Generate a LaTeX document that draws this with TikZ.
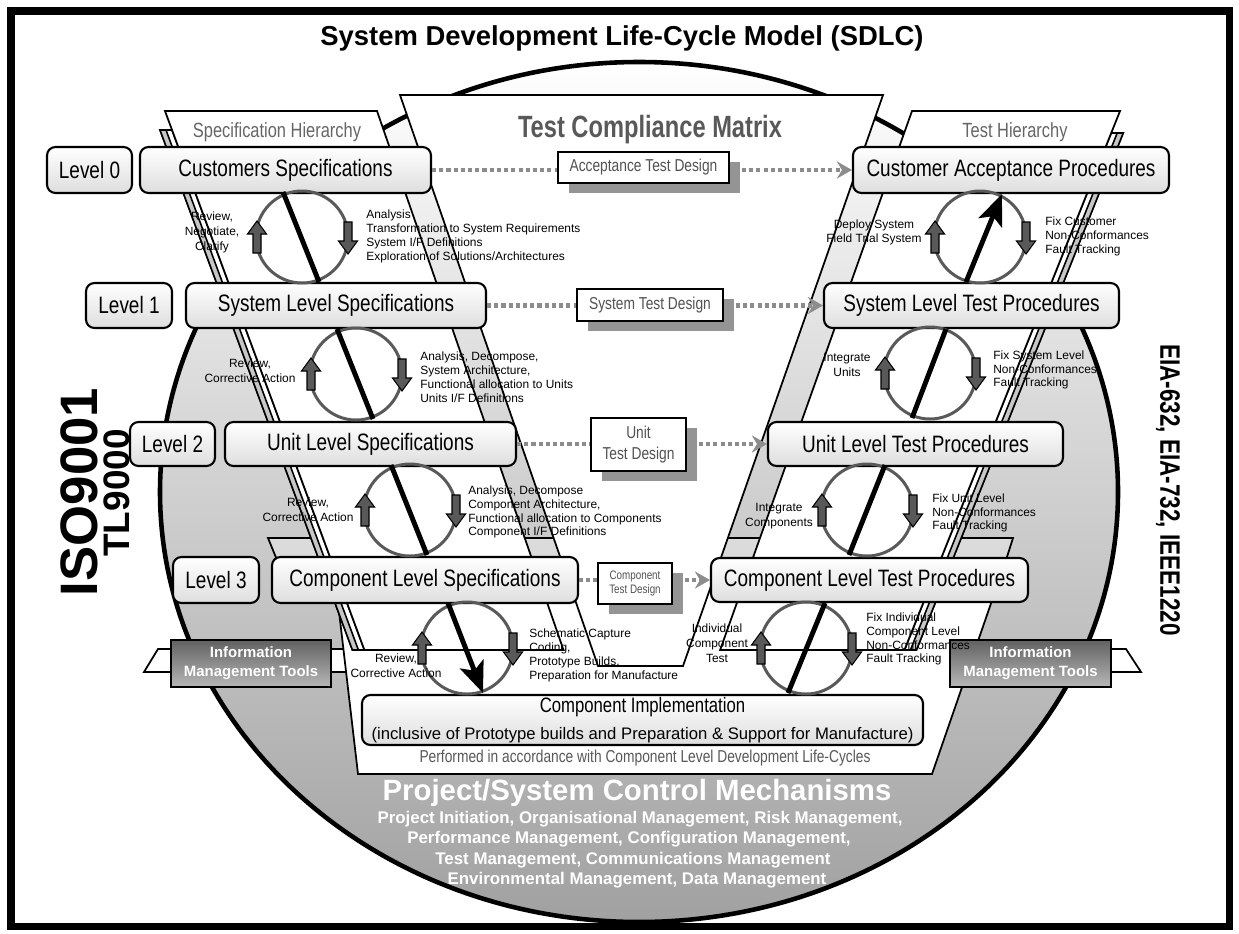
\documentclass[tikz,border=0pt]{standalone}
\usepackage{fontspec}
\setmainfont{Liberation Sans}
\newfontfamily\narrow[FakeStretch=0.8]{Liberation Sans}
\newfontfamily\narrowbold[FakeStretch=0.77]{Liberation Sans Bold}
\usetikzlibrary{arrows.meta,calc,shadows}
\newcommand\upblk[1]{\draw[blk, shift={(#1)}] (-4,16) -- (-4,-3) -- (-9.5,-3) -- (0,-16) -- (9.5,-3) -- (4,-3) -- (4,16) -- cycle;}
\newcommand\dnblk[1]{\draw[blk, shift={(#1)}] (-4,-16) -- (-4,3) -- (-9.5,3) -- (0,16) -- (9.5,3) -- (4,3) -- (4,-16) -- cycle;}
\begin{document}
\begin{tikzpicture}[x=0.02cm,y=-0.02cm,
  box/.style={draw=black,line width=1.2pt,rounded corners=0.17cm,top color=white,bottom color=black!13,inner sep=0pt,font=\narrow\fontsize{13.5}{15}\selectfont},
  wh/.style 2 args={minimum width=#1*0.02cm,minimum height=#2*0.02cm},
  tdbox/.style={draw=black,line width=1.1pt,fill=white,drop shadow={shadow xshift=0.22cm,shadow yshift=-0.2cm,fill=black!42,opacity=1},text=black!68,inner sep=0pt,align=center,font=\narrow\fontsize{9.8}{11.5}\selectfont},
  infobox/.style={draw=black,line width=1.1pt,top color=black!62,bottom color=black!28,text=white,inner sep=0pt,align=center,font=\bfseries\fontsize{8.5}{10.8}\selectfont},
  dots/.style={draw=black!45,line width=2.3pt,dash pattern=on 2.3pt off 1.8pt},
  gtip/.style={-{Stealth[length=0.3cm,width=0.34cm,inset=0.1cm]}},
  band/.style={draw=black,line width=1pt,fill=white},
  ring/.style={draw=black!65,line width=1.7pt},
  diag/.style={draw=black,line width=2.8pt},
  bigtip/.style={-{Stealth[length=0.62cm,width=0.5cm,inset=0.14cm]}},
  blk/.style={draw=black,line width=0.6pt,fill=black!65},
  small/.style={font=\fontsize{6.8}{7.9}\selectfont,inner sep=0pt},
  smallc/.style={font=\fontsize{6.8}{8.4}\selectfont,inner sep=0pt,align=center},
  ctrl/.style={font=\bfseries\fontsize{9.6}{11}\selectfont,text=white,anchor=base,inner sep=0pt}]
\useasboundingbox (0,0) rectangle (1239,933);
\fill[white] (0,0) rectangle (1239,933);

% big ellipse
\draw[line width=2.6pt,top color=white,bottom color=black!37] (639,492) ellipse [x radius=479,y radius=430];

% information management band
\draw[band] (158,649) -- (1126,649) -- (1141,672) -- (144,672) -- cycle;
% level 3 floor strip and bottom region
\draw[band,fill=black!14] (268,538) -- (1013,538) -- (1006,560) -- (277,560) -- cycle;
\draw[band] (333,560) -- (1006,560) -- (932,774) -- (358,774) -- cycle;
% thin side strips
\draw[band,line width=0.9pt] (160,130) -- (172,130) -- (364.4,650) -- (352.4,650) -- cycle;
\draw[band,line width=0.9pt,fill=black!22] (160,130) -- (166,130) -- (358.4,650) -- (352.4,650) -- cycle;
\draw[band,line width=0.9pt] (1111.2,133) -- (1123.2,133) -- (916.4,650) -- (904.4,650) -- cycle;
\draw[band,line width=0.9pt,fill=black!22] (1117.2,133) -- (1123.2,133) -- (916.4,650) -- (910.4,650) -- cycle;
% specification band, test band, matrix
\draw[band] (165,111) -- (377,111) -- (563.5,650) -- (364.4,650) -- cycle;
\draw[band] (912,111) -- (1120,111) -- (904.4,650) -- (720.1,650) -- cycle;
\draw[band] (400,95) -- (883,95) -- (683,666) -- (598,666) -- cycle;

\node[font=\narrow\fontsize{11.7}{13}\selectfont,text=black!60,anchor=base] (sh) at (277,137) {Specification Hierarchy};
\node[font=\narrow\fontsize{11.7}{13}\selectfont,text=black!60,anchor=base] (th) at (1015,137) {Test Hierarchy};
\node[font=\narrowbold\fontsize{17.5}{20}\selectfont,text=black!65,anchor=base] (tcm) at (650,137) {Test Compliance Matrix};

% specification boxes
\node[box,wh={85}{46}] (L0) at (89.5,170) {Level 0};
\node[box,wh={291}{46}] (CS) at (285.5,170) {Customers Specifications};
\node[box,wh={86}{45}] (L1) at (129,305.5) {Level 1};
\node[box,wh={300}{45}] (SLS) at (336,305.5) {System Level Specifications};
\node[box,wh={85}{44}] (L2) at (172.5,444) {Level 2};
\node[box,wh={291}{44}] (ULS) at (370.5,444) {Unit Level Specifications};
\node[box,wh={86}{46}] (L3) at (216,580) {Level 3};
\node[box,wh={306}{46}] (CLS) at (425,580) {Component Level Specifications};
% test boxes
\node[box,wh={316}{46}] (CAP) at (1011,170) {Customer Acceptance Procedures};
\node[box,wh={295}{45}] (SLT) at (971.5,305.5) {System Level Test Procedures};
\node[box,wh={295}{44}] (ULT) at (915.5,444) {Unit Level Test Procedures};
\node[box,wh={317}{44}] (CLT) at (869.5,580) {Component Level Test Procedures};
\node[box,wh={561}{50},align=center] (CI) at (642.5,720) {{\narrow\fontsize{11.9}{14}\selectfont Component Implementation}\\[0.5pt]{\rmfamily\fontsize{9.5}{11}\selectfont (inclusive of Prototype builds and Preparation \& Support for Manufacture)}};
\node[font=\narrow\fontsize{9.8}{11}\selectfont,text=black!65,inner sep=0pt] (perf) at (645,758) {Performed in accordance with Component Level Development Life-Cycles};

% test design boxes
\node[tdbox,wh={171}{31}] (ATD) at (643.5,167.5) {Acceptance Test Design};
\node[tdbox,wh={146}{32}] (STD) at (650,305) {System Test Design};
\node[tdbox,wh={95}{53}] (UTD) at (638.5,444.5) {Unit\\Test Design};
\node[tdbox,wh={74}{41},font=\narrow\fontsize{7}{8.5}\selectfont] (CTD) at (635,583.5) {Component\\Test Design};

% dotted connectors
\draw[dots] (CS.east) -- (CS.east -| ATD.west);
\draw[dots,gtip] ($(CS.east -| ATD.east)+(12,0)$) -- (CS.east -| CAP.west);
\draw[dots] (SLS.east) -- (SLS.east -| STD.west);
\draw[dots,gtip] ($(SLS.east -| STD.east)+(12,0)$) -- (SLS.east -| SLT.west);
\draw[dots] (ULS.east) -- (ULS.east -| UTD.west);
\draw[dots,gtip] ($(ULS.east -| UTD.east)+(12,0)$) -- (ULS.east -| ULT.west);
\draw[dots] (CLS.east) -- (CLS.east -| CTD.west);
\draw[dots,gtip] ($(CLS.east -| CTD.east)+(12,0)$) -- (CLS.east -| CLT.west);

% information management boxes
\node[infobox,wh={160}{47}] (IML) at (251,663.5) {Information\\Management Tools};
\node[infobox,wh={161}{47}] (IMR) at (1030.5,663.5) {Information\\Management Tools};

% cycle circles
\coordinate (c1) at (302,237);
\coordinate (c2) at (356,374);
\coordinate (c3) at (410,510);
\coordinate (c4) at (467,648);
\coordinate (c8) at (980,237);
\coordinate (c7) at (930,373);
\coordinate (c6) at (867,510);
\coordinate (c5) at (806,648);
\foreach \c in {c1,c2,c3,c4,c5,c6,c7,c8} {\draw[ring] (\c) circle [radius=46];}
\draw[diag] ($(c1)+(-19,-45)$) -- ($(c1)+(17,45)$);
\draw[diag] ($(c2)+(-19,-45)$) -- ($(c2)+(17,45)$);
\draw[diag] ($(c3)+(-19,-45)$) -- ($(c3)+(17,45)$);
\draw[diag,bigtip] ($(c4)+(-19,-45)$) -- ($(c4)+(16,45)$);
\draw[diag] ($(c5)+(-18,45)$) -- ($(c5)+(19,-45)$);
\draw[diag] ($(c6)+(-18,45)$) -- ($(c6)+(18,-45)$);
\draw[diag] ($(c7)+(-18,45)$) -- ($(c7)+(16,-44)$);
\draw[diag,bigtip] ($(c8)+(-14,45)$) -- ($(c8)+(22,-43)$);
\foreach \c in {c1,c2,c3,c4,c5,c6,c7,c8} {\upblk{$(\c)+(-45,0)$} \dnblk{$(\c)+(46,1)$}}

% circle labels
\node[smallc,font=\fontsize{6.8}{8.5}\selectfont] (t1l) at (212,232) {Review,\\Negotiate,\\Clarify};
\node[small,align=left,anchor=west] (t1r) at (366,236.5) {Analysis\\Transformation to System Requirements\\System I/F Definitions\\Exploration of Solutions/Architectures};
\node[smallc] (t2l) at (250,370.5) {Review,\\Corrective Action};
\node[small,align=left,anchor=west] (t2r) at (420,377) {Analysis, Decompose,\\System Architecture,\\Functional allocation to Units\\Units I/F Definitions};
\node[smallc] (t3l) at (308,510) {Review,\\Corrective Action};
\node[small,align=left,anchor=west] (t3r) at (468,512) {Analysis, Decompose\\Component Architecture,\\Functional allocation to Components\\Component I/F Definitions};
\node[smallc] (t4l) at (396,666) {Review,\\Corrective Action};
\node[small,align=left,anchor=west] (t4r) at (529,655.5) {Schematic Capture\\Coding,\\Prototype Builds,\\Preparation for Manufacture};
\node[smallc] (t8l) at (874,232.5) {Deploy System\\Field Trial System};
\node[small,align=left,anchor=west] (t8r) at (1045,236.7) {Fix Customer\\Non-Conformances\\Fault Tracking};
\node[smallc] (t7l) at (847,365) {Integrate\\Units};
\node[small,align=left,anchor=west] (t7r) at (993,370) {Fix System Level\\Non-Conformances\\Fault Tracking};
\node[smallc] (t6l) at (779,516) {Integrate\\Components};
\node[small,align=left,anchor=west] (t6r) at (932,513) {Fix Unit Level\\Non-Conformances\\Fault Tracking};
\node[smallc] (t5l) at (717,643) {Individual\\Component\\Test};
\node[small,align=left,anchor=west] (t5r) at (866,639) {Fix Individual\\Component Level\\Non-Conformances\\Fault Tracking};

% big texts
\node[font=\bfseries\fontsize{15.6}{18}\selectfont,anchor=base] (title) at (622,45) {System Development Life-Cycle Model (SDLC)};
\node[font=\bfseries\fontsize{30}{30}\selectfont,rotate=90] (iso) at (79,492) {ISO9001};
\node[font=\bfseries\fontsize{21}{21}\selectfont,rotate=90] (tl) at (117,493) {TL9000};
\node[font=\bfseries\fontsize{16}{16}\selectfont,rotate=-90] (eia) at (1168,490) {\scalebox{0.8}[1]{EIA-632, EIA-732, IEEE1220}};
\node[font=\bfseries\fontsize{16.7}{18}\selectfont,text=white,anchor=base,inner sep=0pt] (psc) at (637,800) {Project/System Control Mechanisms};
\node[ctrl] (pc1) at (640,823) {Project Initiation, Organisational Management, Risk Management,};
\node[ctrl] (pc2) at (629,843) {Performance Management, Configuration Management,};
\node[ctrl] (pc3) at (633,864) {Test Management, Communications Management};
\node[ctrl] (pc4) at (637,884) {Environmental Management, Data Management};

% frame
\draw[line width=4pt] (11,11) rectangle (1229,926);
\end{tikzpicture}
\end{document}
